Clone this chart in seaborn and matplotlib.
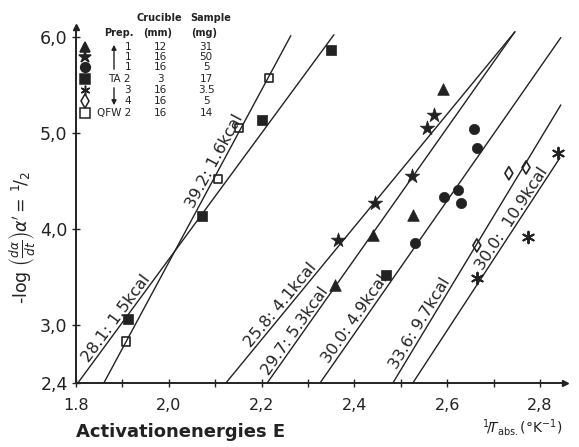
import math
import matplotlib
matplotlib.use("Agg")
import matplotlib.pyplot as plt
from matplotlib.ticker import FixedLocator, FuncFormatter
import seaborn as sns
import pandas as pd

sns.set_theme(style="ticks")
plt.rcParams["font.family"] = ["DejaVu Sans"]
plt.rcParams["mathtext.fontset"] = "dejavusans"

INK = "#222222"

# fitted lines, from -log(...)=2.4 up to the end of each drawn line
line_labels = ["28.1: 1.5kcal", "39.2: 1.6kcal", "25.8: 4.1kcal", "29.7: 5.3kcal",
               "30.0: 4.9kcal", "33.6: 9.7kcal", "30.0:  10.9kcal"]
line_x0 = [1.804, 1.860, 2.123, 2.212, 2.326, 2.483, 2.526]
line_y0 = [2.4, 2.4, 2.4, 2.4, 2.4, 2.4, 2.4]
line_x1 = [2.356, 2.263, 2.746, 2.746, 2.845, 2.845, 2.843]
line_y1 = [6.02, 6.01, 6.05, 6.05, 5.99, 5.29, 4.74]
label_y = [3.03, 4.67, 3.16, 2.90, 3.02, 2.98, 4.07]

# measured points per preparation
tri_x = [2.591, 2.526, 2.440, 2.358]
tri_y = [5.46, 4.15, 3.94, 3.42]
star_x = [2.572, 2.556, 2.524, 2.444, 2.365]
star_y = [5.19, 5.05, 4.55, 4.27, 3.89]
circ_x = [2.658, 2.664, 2.623, 2.593, 2.630, 2.531]
circ_y = [5.04, 4.84, 4.41, 4.33, 4.27, 3.85]
ta_x = [1.912, 2.072, 2.201, 2.350, 2.468]
ta_y = [3.06, 4.14, 5.13, 5.86, 3.52]
ast_x = [2.664, 2.774, 2.839]
ast_y = [3.49, 3.92, 4.79]
dia_x = [2.664, 2.733, 2.770]
dia_y = [3.83, 4.58, 4.64]
qfw_x = [1.908, 2.106, 2.151, 2.216]
qfw_y = [2.83, 4.52, 5.05, 5.57]

# legend table
leg_prep = ["1", "1", "1", "TA 2", "3", "4", "QFW 2"]
leg_crucible = ["12", "16", "16", "3", "16", "16", "16"]
leg_sample = ["31", "50", "5", "17", "3.5", "5", "14"]

x_ticks = [1.8, 2.0, 2.2, 2.4, 2.6, 2.8]
x_minor = [1.9, 2.1, 2.3, 2.5, 2.7]
y_ticks = [2.4, 3.0, 4.0, 5.0, 6.0]

W, H = 579, 447
fig = plt.figure(figsize=(W / 100, H / 100), dpi=100)


def fx(px, py):
    return px / W, 1 - py / H


ax = fig.add_axes([76 / W, (H - 383) / H, (565 - 76) / W, (383 - 27) / H])
ax.set_xlim(1.8, 2.854)
ax.set_ylim(2.4, 6.1)

for i in range(len(line_labels)):
    seg = pd.DataFrame({"x": [line_x0[i], line_x1[i]], "y": [line_y0[i], line_y1[i]]})
    sns.lineplot(data=seg, x="x", y="y", ax=ax, color=INK, linewidth=1.0,
                 estimator=None, sort=False)

filled = [(tri_x, tri_y, "^", 70), (star_x, star_y, "*", 120), (circ_x, circ_y, "o", 55),
          (ta_x, ta_y, "s", 50)]
for xs, ys, m, s in filled:
    sns.scatterplot(x=xs, y=ys, ax=ax, marker=m, s=s, color=INK, edgecolor=INK,
                    linewidth=0.5, zorder=3)
sns.scatterplot(x=ast_x, y=ast_y, ax=ax, marker=(6, 2, 0), s=70, color=INK,
                linewidth=1.4, zorder=3)
sns.scatterplot(x=dia_x, y=dia_y, ax=ax, marker="d", s=45, facecolor="none",
                edgecolor=INK, linewidth=1.2, zorder=3)
sns.scatterplot(x=qfw_x, y=qfw_y, ax=ax, marker="s", s=38, facecolor="none",
                edgecolor=INK, linewidth=1.2, zorder=3)

# labels along the lines
for i, lab in enumerate(line_labels):
    x0, y0, x1, y1 = line_x0[i], line_y0[i], line_x1[i], line_y1[i]
    p0 = ax.transData.transform((x0, y0))
    p1 = ax.transData.transform((x1, y1))
    ang = math.degrees(math.atan2(p1[1] - p0[1], p1[0] - p0[0]))
    ly = label_y[i]
    lx = x0 + (ly - y0) * (x1 - x0) / (y1 - y0)
    ax.text(lx, ly, lab, rotation=ang, rotation_mode="anchor", ha="center",
            va="bottom", fontsize=11.5, color=INK)

ax.set_xlabel("")
ax.set_ylabel("")
sns.despine(ax=ax)
for sp in ["left", "bottom"]:
    ax.spines[sp].set_color(INK)
    ax.spines[sp].set_linewidth(1.4)
ax.plot(1, 0, ">", color=INK, markersize=5, transform=ax.transAxes, clip_on=False)
ax.plot(0, 1, "^", color=INK, markersize=5, transform=ax.transAxes, clip_on=False)

ax.xaxis.set_major_locator(FixedLocator(x_ticks))
ax.xaxis.set_minor_locator(FixedLocator(x_minor))
ax.yaxis.set_major_locator(FixedLocator(y_ticks))
ax.xaxis.set_major_formatter(FuncFormatter(lambda v, p: "1.8" if p == 0 else f"{v:.1f}".replace(".", ",")))
ax.yaxis.set_major_formatter(FuncFormatter(lambda v, p: f"{v:.1f}".replace(".", ",")))
ax.tick_params(axis="both", which="both", direction="inout", length=6, width=1.0,
               color=INK, labelcolor=INK)
ax.tick_params(axis="x", labelsize=11.5, pad=8)
ax.tick_params(axis="y", labelsize=12.5, pad=3)

fig.text(*fx(482, 427), r"$^{1}\!/\!T_{\mathrm{abs.}}$(°K$^{-1}$)", fontsize=10,
         ha="left", va="center", color=INK)
fig.text(*fx(181, 432), "Activationenergies E", fontsize=13, fontweight="bold",
         ha="center", va="center", color=INK)
fig.text(*fx(22, 238), r"-log $\left(\frac{d\alpha}{dt}\right)\alpha^{\prime}=\,^{1}\!/_{2}$",
         rotation=90, fontsize=12.5, ha="center", va="center", color=INK)

# legend block
for (px, py, t) in [(159, 18, "Crucible"), (211, 18, "Sample"), (119, 33, "Prep."),
                    (158, 33, "(mm)"), (204, 33, "(mg)")]:
    fig.text(*fx(px, py), t, fontsize=7, fontweight="bold", ha="center", va="center",
             color=INK)
rows = [47, 57, 67, 79, 90, 101, 113]
leg_markers = [("^", True), ("*", True), ("o", True), ("s", True), ((6, 2, 0), True),
               ("d", False), ("s", False)]
for r, (m, f), p, c, s in zip(rows, leg_markers, leg_prep, leg_crucible, leg_sample):
    fig.text(*fx(131, r), p, fontsize=7.5, ha="right", va="center", color=INK)
    fig.text(*fx(160, r), c, fontsize=7.5, ha="center", va="center", color=INK)
    fig.text(*fx(206, r), s, fontsize=7.5, ha="center", va="center", color=INK)
    mx, my = fx(85, r)
    fig.lines.append(plt.Line2D([mx], [my], marker=m, markersize=7 if m != "*" else 9,
                                color=INK, mfc=INK if f else "none", mec=INK, mew=1.1,
                                linestyle="none", transform=fig.transFigure))
ax.annotate("", xy=fx(114, 42), xytext=fx(114, 72), xycoords="figure fraction",
            textcoords="figure fraction",
            arrowprops=dict(arrowstyle="-|>", color=INK, lw=1.0, mutation_scale=7))
ax.annotate("", xy=fx(114, 108), xytext=fx(114, 85), xycoords="figure fraction",
            textcoords="figure fraction",
            arrowprops=dict(arrowstyle="-|>", color=INK, lw=1.0, mutation_scale=7))

fig.savefig("out.png", dpi=100, facecolor="white")
